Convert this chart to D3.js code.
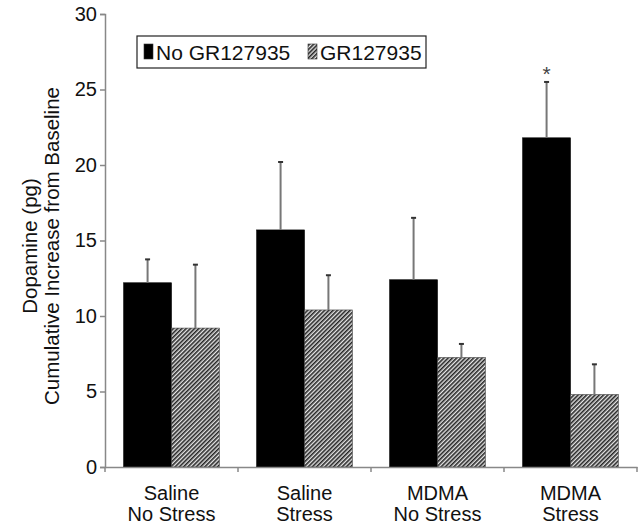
<html>
<head>
    <title>Dopamine cumulative increase</title>
    <script src="https://d3js.org/d3.v7.min.js"></script>
    <style>
        body { margin: 0; background: white; font-family: "Liberation Sans", Arial, sans-serif; }
        svg { display: block; }
        text { font-family: "Liberation Sans", Arial, sans-serif; }
    </style>
</head>
<body>
    <svg id="chart" width="643" height="526"></svg>
    <script>
        // data
        const categories = [["Saline", "No Stress"], ["Saline", "Stress"], ["MDMA", "No Stress"], ["MDMA", "Stress"]];
        const seriesNames = ["No GR127935", "GR127935"];
        const noGR = [12.2, 15.7, 12.4, 21.8];
        const noGRErr = [1.55, 4.5, 4.1, 3.7];
        const withGR = [9.2, 10.4, 7.25, 4.8];
        const withGRErr = [4.2, 2.3, 0.9, 2.0];
        const yTicks = [0, 5, 10, 15, 20, 25, 30];
        const starred = [3];

        const margin = { top: 14, right: 6, bottom: 59, left: 105 };
        const width = 643 - margin.left - margin.right;
        const height = 526 - margin.top - margin.bottom;

        const svg = d3.select("#chart");
        const defs = svg.append("defs");
        const pat = defs.append("pattern")
            .attr("id", "hatch")
            .attr("patternUnits", "userSpaceOnUse")
            .attr("width", 3).attr("height", 3)
            .attr("patternTransform", "rotate(45)");
        pat.append("rect").attr("width", 3).attr("height", 3).attr("fill", "#e6e6e6");
        pat.append("rect").attr("width", 1.6).attr("height", 3).attr("fill", "#262626");

        const g = svg.append("g").attr("transform", "translate(" + margin.left + "," + margin.top + ")");

        const keys = categories.map(c => c.join(" "));
        const x = d3.scaleBand().domain(keys).range([0, width]).paddingInner(0).paddingOuter(0);
        const xs = d3.scaleBand().domain(seriesNames).range([0, x.bandwidth()]).paddingInner(0).paddingOuter(0.39);
        const y = d3.scaleLinear().domain([0, 30]).range([height, 0]);

        const data = keys.map((k, i) => ({
            key: k,
            vals: [
                { s: seriesNames[0], v: noGR[i], e: noGRErr[i] },
                { s: seriesNames[1], v: withGR[i], e: withGRErr[i] }
            ]
        }));

        const groups = g.selectAll(".grp").data(data).enter().append("g")
            .attr("transform", d => "translate(" + x(d.key) + ",0)");

        groups.selectAll("rect").data(d => d.vals).enter().append("rect")
            .attr("x", d => xs(d.s))
            .attr("y", d => y(d.v))
            .attr("width", xs.bandwidth())
            .attr("height", d => height - y(d.v))
            .attr("fill", (d, i) => i === 0 ? "#000" : "url(#hatch)")
            .attr("stroke", (d, i) => i === 0 ? "#000" : "#444")
            .attr("stroke-width", 0.6);

        // error bars (upward only)
        groups.selectAll(".err").data(d => d.vals).enter().append("line")
            .attr("x1", d => xs(d.s) + xs.bandwidth() / 2)
            .attr("x2", d => xs(d.s) + xs.bandwidth() / 2)
            .attr("y1", d => y(d.v))
            .attr("y2", d => y(d.v + d.e))
            .attr("stroke", "#777").attr("stroke-width", 2);
        groups.selectAll(".cap").data(d => d.vals).enter().append("line")
            .attr("x1", d => xs(d.s) + xs.bandwidth() / 2 - 2.5)
            .attr("x2", d => xs(d.s) + xs.bandwidth() / 2 + 2.5)
            .attr("y1", d => y(d.v + d.e))
            .attr("y2", d => y(d.v + d.e))
            .attr("stroke", "#333").attr("stroke-width", 2);

        // asterisk
        g.selectAll(".star").data(starred).enter().append("text")
            .attr("x", i => x(keys[i]) + xs(seriesNames[0]) + xs.bandwidth() / 2)
            .attr("y", i => y(noGR[i] + noGRErr[i]) - 1)
            .attr("text-anchor", "middle")
            .style("font-size", "21px").style("fill", "#444")
            .text("*");

        // y axis
        const yAxis = g.append("g")
            .call(d3.axisLeft(y).tickValues(yTicks).tickSize(5).tickPadding(3));
        yAxis.selectAll("text").style("font-size", "20px").style("fill", "#111")
            .style("font-family", "Liberation Sans, Arial, sans-serif");

        // x axis
        const xAxis = g.append("g")
            .attr("transform", "translate(0," + height + ")")
            .call(d3.axisBottom(x).tickValues([]).tickSizeOuter(0));
        xAxis.selectAll(".xt").data(d3.range(keys.length + 1)).enter().append("line")
            .attr("x1", i => i * x.step()).attr("x2", i => i * x.step())
            .attr("y1", 0).attr("y2", 5);

        g.selectAll(".domain, .tick line").attr("stroke", "#888").attr("stroke-width", 1.5);
        xAxis.selectAll("line").attr("stroke", "#888").attr("stroke-width", 1.5);

        // category labels
        const lab = g.selectAll(".cat").data(categories).enter().append("text")
            .attr("text-anchor", "middle")
            .attr("transform", (d, i) => "translate(" + (x(keys[i]) + x.bandwidth() / 2) + "," + (height + 33) + ")")
            .style("font-size", "20px").style("fill", "#111");
        lab.append("tspan").attr("x", 0).attr("dy", 0).text(d => d[0]);
        lab.append("tspan").attr("x", 0).attr("dy", 21).text(d => d[1]);

        // y title
        const yt = svg.append("text")
            .attr("transform", "translate(37,246) rotate(-90)")
            .attr("text-anchor", "middle")
            .style("font-size", "20.5px").style("fill", "#111");
        yt.append("tspan").attr("x", 0).attr("dy", 0).text("Dopamine (pg)");
        yt.append("tspan").attr("x", 0).attr("dy", 22).text("Cumulative Increase from Baseline");

        // legend
        const leg = svg.append("g").attr("transform", "translate(137,36)");
        leg.append("rect").attr("width", 289).attr("height", 32)
            .attr("fill", "white").attr("stroke", "#222").attr("stroke-width", 1.2);
        const items = leg.selectAll(".li").data(seriesNames).enter().append("g")
            .attr("transform", (d, i) => "translate(" + (i === 0 ? 7 : 171) + ",0)");
        items.append("rect").attr("y", 8).attr("width", 9).attr("height", 15)
            .attr("fill", (d, i) => i === 0 ? "#000" : "url(#hatch)")
            .attr("stroke", "#333").attr("stroke-width", 0.6);
        items.append("text").attr("x", 12).attr("y", 23.5)
            .style("font-size", "21px").style("fill", "#111")
            .text(d => d);
    </script>
</body>
</html>
